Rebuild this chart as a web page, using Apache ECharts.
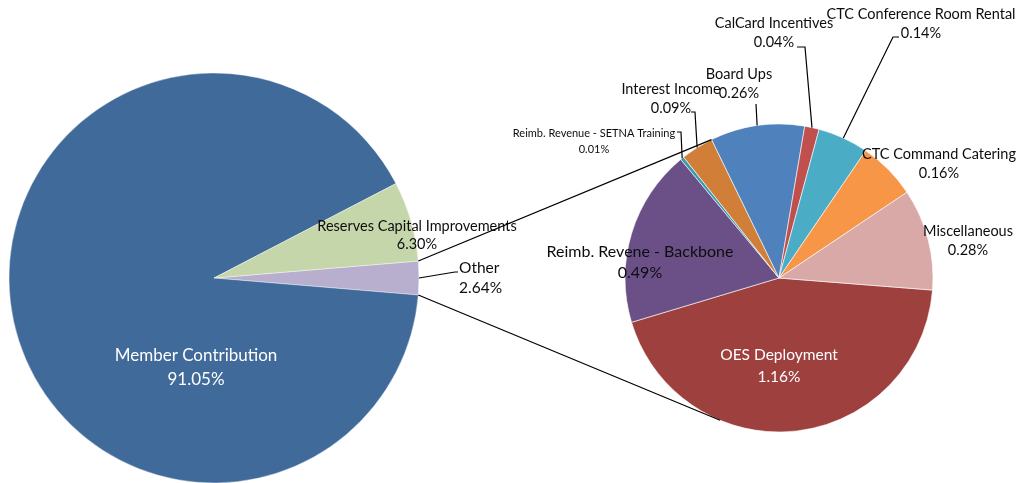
<!DOCTYPE html>
<html>
<head>
<meta charset="utf-8">
<script src="https://cdn.jsdelivr.net/npm/echarts@6/dist/echarts.min.js"></script>
<style>
  html, body { margin: 0; padding: 0; background: #ffffff; }
  #chart { width: 1017px; height: 483px; }
</style>
</head>
<body>
<div id="chart"></div>
<script>
// Revenue shares (percent of total)
const mainNames = ['Other', 'Member Contribution', 'Reserves Capital Improvements'];
const mainValues = [2.64, 91.05, 6.30];
const mainColors = ['#B8AFCF', '#406A9A', '#C5D6AA'];

// Breakdown of "Other"
const otherNames = [
  'OES Deployment', 'Reimb. Revene - Backbone', 'Reimb. Revenue - SETNA Training',
  'Interest Income', 'Board Ups', 'CalCard Incentives',
  'CTC Conference Room Rental', 'CTC Command Catering', 'Miscellaneous'
];
const otherValues = [1.16, 0.49, 0.01, 0.09, 0.26, 0.04, 0.14, 0.16, 0.28];
const otherColors = ['#9E403E', '#6A5087', '#3A9AB2', '#D17F38', '#4F81BD', '#C0504D', '#4BACC6', '#F79646', '#D9A9A7'];

// Layout of the two pies
const MAIN = { cx: 214, cy: 278, r: 205 };
const SUB = { cx: 779, cy: 278, r: 154, start: -4.5 };

// Label anchor points (text block centres unless noted)
const mainLabelPos = [
  { x: 459, y: 278, align: 'left', lh: 20, size: 15.5 },
  { x: 196, y: 368, lh: 24, color: '#ffffff', size: 17 },
  { x: 417, y: 235, lh: 18, size: 14.5 }
];
const otherLabelPos = [
  { x: 779, y: 366, lh: 22, color: '#ffffff', size: 15.5 },
  { x: 640, y: 262, lh: 21, size: 16 },
  { x: 594, y: 141, lh: 16, size: 11 },
  { x: 671, y: 99 },
  { x: 739, y: 84 },
  { x: 774, y: 33 },
  { x: 921, y: 24 },
  { x: 939, y: 164 },
  { x: 968, y: 241 }
];
// Leader-line bend points, drawn from the slice's outer mid-point
const mainLeaders = { 0: [[455, 272], [458, 272]] };
const otherLeaders = {
  2: [[681, 132], [677, 132]],
  3: [[695, 112], [691, 112]],
  4: [[756, 104]],
  5: [[805, 47], [797, 47]],
  6: [[893, 37], [899, 37]]
};
// Angles where the connectors meet the breakdown pie
const connectorAngles = [116, -112.5];

const sum = a => a.reduce((s, v) => s + v, 0);
const rad = d => d * Math.PI / 180;
const polar = (p, ang, r) => [p.cx + (r || p.r) * Math.cos(rad(ang)), p.cy - (r || p.r) * Math.sin(rad(ang))];

function midAngles(values, start) {
  const total = sum(values);
  let cum = 0;
  return values.map(v => {
    const m = start - (cum + v / 2) / total * 360;
    cum += v;
    return m;
  });
}

const mainStart = mainValues[0] / sum(mainValues) * 180;
const mainMid = midAngles(mainValues, mainStart);
const otherMid = midAngles(otherValues, SUB.start);

const FONT = 'Lato, "Noto Sans", sans-serif';

function items(names, values, colors, pos) {
  return names.map((n, i) => ({
    name: n,
    value: values[i],
    itemStyle: { color: colors[i] },
    label: {
      color: pos[i].color || '#0d0d0d',
      fontSize: pos[i].size || 14.5,
      lineHeight: pos[i].lh || 19
    }
  }));
}

const lineStyle = { stroke: '#000000', lineWidth: 1.2, fill: null };
const graphics = [];
function leader(p, ang, bends) {
  const start = polar(p, ang);
  graphics.push({ type: 'polyline', silent: true, z: 10, shape: { points: [start].concat(bends) }, style: lineStyle });
}
Object.keys(mainLeaders).forEach(k => leader(MAIN, mainMid[k], mainLeaders[k]));
Object.keys(otherLeaders).forEach(k => leader(SUB, otherMid[k], otherLeaders[k]));

// Connectors from the edges of the "Other" slice to the breakdown pie
[mainStart, -mainStart].forEach((a, i) => {
  const p1 = polar(MAIN, a);
  const p2 = polar(SUB, connectorAngles[i]);
  graphics.push({ type: 'line', silent: true, z: 10, shape: { x1: p1[0], y1: p1[1], x2: p2[0], y2: p2[1] }, style: { stroke: '#000000', lineWidth: 1.2 } });
});

function layoutFrom(table) {
  return function (params) {
    const p = table[params.dataIndex];
    return { x: p.x, y: p.y, align: p.align || 'center', verticalAlign: 'middle' };
  };
}

const labelOpt = {
  show: true,
  position: 'outside',
  fontFamily: FONT,
  formatter: p => p.name + '\n' + p.value.toFixed(2) + '%'
};

const chart = echarts.init(document.getElementById('chart'), null, { renderer: 'canvas' });
chart.setOption({
  animation: false,
  backgroundColor: '#ffffff',
  textStyle: { fontFamily: FONT },
  series: [
    {
      type: 'pie',
      center: [MAIN.cx, MAIN.cy],
      radius: MAIN.r,
      startAngle: mainStart,
      clockwise: true,
      avoidLabelOverlap: false,
      itemStyle: { borderColor: '#ffffff', borderWidth: 0.4 },
      label: labelOpt,
      labelLine: { show: false },
      labelLayout: layoutFrom(mainLabelPos),
      emphasis: { disabled: true },
      data: items(mainNames, mainValues, mainColors, mainLabelPos)
    },
    {
      type: 'pie',
      center: [SUB.cx, SUB.cy],
      radius: SUB.r,
      startAngle: SUB.start,
      clockwise: true,
      avoidLabelOverlap: false,
      itemStyle: { borderColor: '#ffffff', borderWidth: 0.6 },
      label: labelOpt,
      labelLine: { show: false },
      labelLayout: layoutFrom(otherLabelPos),
      emphasis: { disabled: true },
      data: items(otherNames, otherValues, otherColors, otherLabelPos)
    }
  ],
  graphic: graphics
});
</script>
</body>
</html>
